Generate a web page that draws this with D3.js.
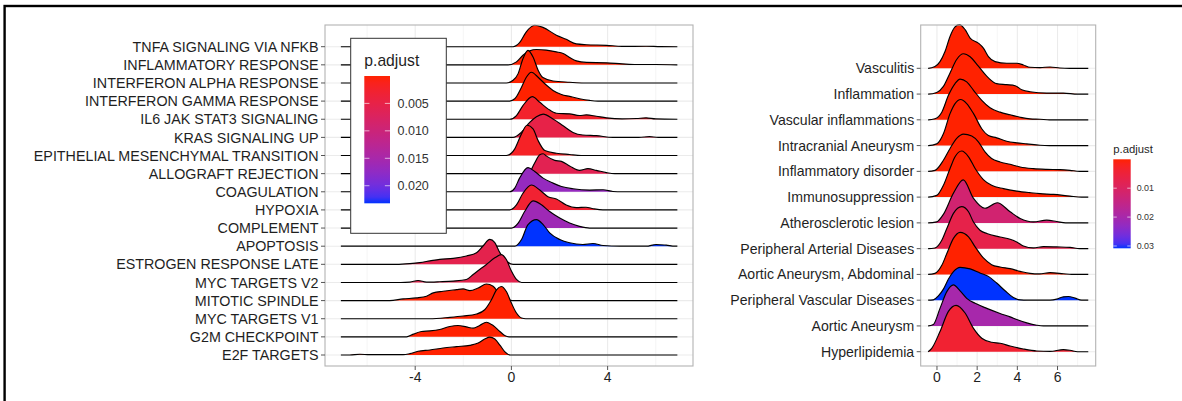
<!DOCTYPE html>
<html>
<head>
<meta charset="utf-8">
<script src="https://cdn.jsdelivr.net/npm/d3@7"></script>
<style>
  body { margin: 0; background: #fff; }
  svg { display: block; font-family: "Liberation Sans", Arial, sans-serif; }
</style>
</head>
<body>
<svg id="chart" width="1182" height="401"></svg>
<script>
// ---- left panel: hallmark gene sets ----
const hallmarkTerms = [
  "TNFA SIGNALING VIA NFKB", "INFLAMMATORY RESPONSE", "INTERFERON ALPHA RESPONSE",
  "INTERFERON GAMMA RESPONSE", "IL6 JAK STAT3 SIGNALING", "KRAS SIGNALING UP",
  "EPITHELIAL MESENCHYMAL TRANSITION", "ALLOGRAFT REJECTION", "COAGULATION",
  "HYPOXIA", "COMPLEMENT", "APOPTOSIS", "ESTROGEN RESPONSE LATE", "MYC TARGETS V2",
  "MITOTIC SPINDLE", "MYC TARGETS V1", "G2M CHECKPOINT", "E2F TARGETS"
];
const hallmarkPadj = [
  0.00001, 0.00001, 0.00001, 0.00001, 0.0025, 0.005, 0.002, 0.006, 0.017,
  0.003, 0.016, 0.0232, 0.0055, 0.0055, 0.00001, 0.00001, 0.00001, 0.00001
];
// density estimates [log2FC, density] read off the ridges
const hallmarkDensity = [
  [[0.07,0],[0.34,0.10],[0.62,0.375],[0.97,0.54],[1.31,0.485],[1.87,0.29],[2.28,0.185],[2.70,0.07],[3.12,0.05],[3.95,0.035],[4.6,0.008],[5.6,0.012],[6.2,0.002]],
  [[-0.14,0],[0.21,0.075],[0.48,0.24],[0.76,0.35],[1.04,0.385],[1.45,0.37],[1.87,0.325],[2.15,0.285],[2.42,0.185],[2.70,0.10],[3.12,0.06],[3.95,0.05],[4.6,0.025],[5.2,0.008],[6.0,0.008]],
  [[-0.21,0],[0.07,0.068],[0.28,0.235],[0.48,0.61],[0.69,0.82],[0.90,0.65],[1.11,0.32],[1.31,0.135],[1.73,0.05],[2.42,0.018],[3.0,0]],
  [[-0.07,0],[0.14,0.058],[0.42,0.35],[0.62,0.6],[0.83,0.725],[1.11,0.6],[1.39,0.435],[1.73,0.268],[2.08,0.168],[2.42,0.118],[2.83,0.06],[3.25,0.018],[3.6,0]],
  [[-0.07,0],[0.21,0.093],[0.48,0.343],[0.87,0.568],[1.18,0.425],[1.52,0.26],[1.87,0.15],[2.42,0.135],[2.83,0.093],[3.12,0.11],[3.53,0.075],[3.95,0.035],[4.6,0.008],[5.2,0.018],[5.6,0.035],[6.0,0.008]],
  [[0.07,0],[0.41,0.125],[0.76,0.375],[1.04,0.518],[1.32,0.585],[1.73,0.46],[2.15,0.293],[2.56,0.125],[2.97,0.06],[3.53,0.043],[4.22,0],[5.3,0],[5.74,0.018],[6.1,0]],
  [[-0.21,0],[0.14,0.168],[0.42,0.543],[0.65,0.76],[0.90,0.668],[1.11,0.375],[1.39,0.125],[1.87,0.058],[2.42,0.025],[2.9,0]],
  [[0.55,0],[0.76,0.04],[0.95,0.25],[1.18,0.475],[1.32,0.5],[1.46,0.44],[1.80,0.333],[2.08,0.308],[2.42,0.193],[2.83,0.083],[3.18,0.125],[3.53,0.083],[3.95,0.025],[4.3,0]],
  [[-0.07,0],[0.14,0.093],[0.34,0.343],[0.69,0.608],[0.97,0.508],[1.32,0.343],[1.73,0.218],[2.08,0.133],[2.56,0.075],[3.25,0.043],[3.81,0.05],[4.22,0.008],[4.6,0]],
  [[-0.07,0],[0.21,0.125],[0.48,0.418],[0.83,0.625],[1.18,0.5],[1.52,0.333],[1.87,0.275],[2.28,0.125],[2.70,0.058],[3.1,0.068],[3.4,0.03],[3.8,0]],
  [[0.0,0],[0.28,0.125],[0.55,0.415],[0.90,0.683],[1.25,0.583],[1.59,0.415],[2.01,0.25],[2.42,0.125],[2.83,0.043],[3.25,0]],
  [[0.14,0],[0.42,0.168],[0.69,0.543],[1.04,0.668],[1.32,0.543],[1.59,0.335],[2.01,0.168],[2.42,0.085],[2.97,0.043],[3.39,0.068],[3.81,0.018],[4.5,0],[5.6,0],[6.02,0.043],[6.44,0.025],[6.8,0]],
  [[-4.78,0],[-4.22,0.018],[-3.81,0.043],[-3.39,0.085],[-2.98,0.125],[-2.42,0.15],[-1.87,0.21],[-1.45,0.293],[-1.18,0.46],[-0.90,0.625],[-0.69,0.543],[-0.48,0.293],[-0.21,0.085],[0.07,0]],
  [[-4.6,0],[-4.22,0.008],[-3.88,0.05],[-3.53,0.008],[-2.98,0.018],[-2.42,0.035],[-1.87,0.075],[-1.59,0.2],[-1.32,0.325],[-1.04,0.45],[-0.69,0.618],[-0.42,0.7],[-0.21,0.575],[0.0,0.285],[0.21,0.075],[0.42,0]],
  [[-5.06,0],[-4.5,0.043],[-3.95,0.068],[-3.53,0.11],[-3.25,0.193],[-2.84,0.235],[-2.28,0.275],[-2.01,0.293],[-1.73,0.25],[-1.38,0.318],[-1.04,0.418],[-0.76,0.36],[-0.48,0.15],[-0.21,0.043],[0.05,0]],
  [[-3.39,0],[-2.56,0.035],[-2.01,0.068],[-1.45,0.118],[-1.11,0.225],[-0.83,0.475],[-0.62,0.725],[-0.42,0.81],[-0.21,0.685],[0.0,0.393],[0.21,0.143],[0.42,0.018],[0.6,0]],
  [[-4.36,0],[-4.08,0.068],[-3.74,0.135],[-3.39,0.15],[-2.98,0.185],[-2.56,0.26],[-2.22,0.285],[-1.87,0.25],[-1.59,0.218],[-1.32,0.285],[-1.04,0.368],[-0.76,0.285],[-0.48,0.135],[-0.28,0.035],[-0.1,0]],
  [[-6.72,0],[-6.3,0.018],[-5.89,0.008],[-4.5,0.008],[-4.22,0.033],[-3.88,0.093],[-3.39,0.125],[-2.84,0.175],[-2.28,0.21],[-1.73,0.243],[-1.38,0.3],[-1.11,0.4],[-0.90,0.45],[-0.69,0.4],[-0.48,0.25],[-0.28,0.085],[-0.05,0]]
];
const hallmarkRange = [-7.09, 6.9];
const hallmarkXTicks = [-4, 0, 4];
const hallmarkXMinor = [-6, -2, 2, 6];
const hallmarkLegendTicks = [0.005, 0.010, 0.015, 0.020];

// ---- right panel: disease terms ----
const diseaseTerms = [
  "Vasculitis", "Inflammation", "Vascular inflammations", "Intracranial Aneurysm",
  "Inflammatory disorder", "Immunosuppression", "Atherosclerotic lesion",
  "Peripheral Arterial Diseases", "Aortic Aneurysm, Abdominal",
  "Peripheral Vascular Diseases", "Aortic Aneurysm", "Hyperlipidemia"
];
const diseasePadj = [
  0.00001, 0.00001, 0.00001, 0.00001, 0.00001, 0.00001,
  0.012, 0.007, 0.00001, 0.0308, 0.020, 0.004
];
const diseaseDensity = [
  [[-0.43,0],[-0.10,0.034],[0.15,0.132],[0.40,0.332],[0.65,0.632],[0.90,0.82],[1.12,0.866],[1.40,0.766],[1.65,0.6],[2.06,0.5],[2.31,0.4],[2.56,0.232],[2.89,0.132],[3.47,0.1],[3.97,0.1],[4.30,0.066],[4.63,0.02],[5.13,0.014],[5.63,0.026],[6.12,0.006],[6.6,0]],
  [[-0.43,0],[-0.01,0.032],[0.32,0.152],[0.65,0.42],[0.98,0.686],[1.32,0.8],[1.65,0.74],[2.06,0.552],[2.56,0.32],[2.97,0.206],[3.47,0.186],[3.89,0.166],[4.22,0.086],[4.63,0.046],[5.46,0.02],[6.29,0.02],[7.0,0]],
  [[-0.43,0],[-0.10,0.02],[0.24,0.152],[0.57,0.486],[0.90,0.72],[1.15,0.806],[1.48,0.752],[1.82,0.586],[2.23,0.386],[2.64,0.24],[3.14,0.152],[3.64,0.1],[4.14,0.052],[4.63,0.02],[5.13,0.012],[5.6,0]],
  [[-0.43,0],[-0.01,0.034],[0.32,0.234],[0.65,0.634],[0.90,0.834],[1.18,0.914],[1.48,0.834],[1.82,0.634],[2.23,0.334],[2.56,0.2],[2.97,0.154],[3.47,0.086],[3.97,0.054],[4.47,0.034],[5.13,0.006],[5.6,0]],
  [[-0.43,0],[-0.10,0.02],[0.32,0.22],[0.65,0.454],[0.98,0.654],[1.32,0.74],[1.73,0.7],[2.06,0.586],[2.39,0.386],[2.72,0.254],[3.14,0.186],[3.64,0.14],[4.14,0.086],[4.80,0.054],[5.46,0.04],[6.12,0.034],[6.62,0.02],[7.1,0]],
  [[-0.43,0],[-0.01,0.034],[0.32,0.234],[0.65,0.568],[0.90,0.8],[1.23,0.914],[1.57,0.8],[1.90,0.568],[2.31,0.348],[2.72,0.234],[3.31,0.168],[3.97,0.12],[4.63,0.088],[5.13,0.068],[5.80,0.054],[6.62,0.02],[7.2,0]],
  [[-0.43,0],[-0.01,0.02],[0.32,0.17],[0.82,0.59],[1.31,0.854],[1.81,0.49],[2.39,0.29],[3.0,0.4],[3.64,0.22],[4.14,0.088],[4.80,0.02],[5.46,0.054],[5.96,0.028],[6.4,0]],
  [[-0.43,0],[-0.10,0.014],[0.24,0.166],[0.49,0.4],[0.82,0.7],[1.23,0.834],[1.57,0.732],[1.81,0.532],[2.14,0.366],[2.48,0.3],[3.14,0.232],[3.64,0.186],[3.97,0.132],[4.30,0.052],[4.80,0.014],[5.30,0.04],[5.96,0.034],[6.62,0.026],[7.1,0]],
  [[-0.43,0],[-0.10,0.02],[0.24,0.18],[0.49,0.414],[0.82,0.714],[1.15,0.834],[1.57,0.746],[1.90,0.546],[2.31,0.326],[2.72,0.194],[3.14,0.146],[3.64,0.114],[4.14,0.06],[4.63,0.02],[5.1,0.01],[5.63,0.034],[6.29,0.014],[6.7,0]],
  [[-0.43,0],[-0.18,0.006],[0.07,0.086],[0.32,0.22],[0.57,0.42],[0.82,0.566],[1.15,0.652],[1.65,0.62],[2.14,0.54],[2.56,0.472],[2.97,0.34],[3.39,0.186],[3.80,0.052],[4.14,0.006],[4.5,0],[5.63,0],[5.96,0.02],[6.29,0.066],[6.54,0.072],[6.87,0.04],[7.2,0]],
  [[-0.43,0],[-0.18,0.028],[0.15,0.348],[0.49,0.68],[0.82,0.814],[1.15,0.694],[1.48,0.548],[1.90,0.448],[2.48,0.348],[3.14,0.248],[3.64,0.18],[3.97,0.128],[4.47,0.06],[4.97,0.014],[5.3,0]],
  [[-0.44,0],[-0.26,0.068],[0.15,0.4],[0.57,0.8],[0.95,0.92],[1.40,0.768],[1.81,0.468],[2.23,0.268],[2.72,0.188],[3.14,0.168],[3.64,0.114],[4.30,0.054],[4.97,0.014],[5.63,0.006],[6.29,0.04],[6.62,0.028],[7.0,0]]
];
const diseaseRange = [-0.44, 7.53];
const diseaseXTicks = [0, 2, 4, 6];
const diseaseXMinor = [1, 3, 5, 7];
const diseaseLegendTicks = [0.01, 0.02, 0.03];

const svg = d3.select("#chart");

// outer frame (only top and left edge fall inside the picture)
svg.append("rect")
  .attr("x", 4.6).attr("y", 6)
  .attr("width", 1300).attr("height", 500)
  .attr("fill", "none").attr("stroke", "#000").attr("stroke-width", 2.4);

function ridgePanel(o) {
  const g = svg.append("g");
  const x = d3.scaleLinear().domain(o.xDomain).range([o.left, o.right]);
  const y = d3.scalePoint().domain(o.terms).range([o.firstRow, o.lastRow]);
  const step = y.step();
  const dmax = d3.max(o.dens, r => d3.max(r, d => d[1]));
  const h = d3.scaleLinear().domain([0, dmax]).range([0, 1.8 * step]);
  const color = d3.scaleLinear().domain(d3.extent(o.padj)).range(["#ff2200", "#0033ff"]).interpolate(d3.interpolateLab);

  // grid
  g.selectAll(".vmin").data(o.minor).enter().append("line")
    .attr("x1", d => x(d)).attr("x2", d => x(d))
    .attr("y1", o.top).attr("y2", o.bottom)
    .attr("stroke", "#f2f2f2").attr("stroke-width", 0.8);
  g.selectAll(".vmaj").data(o.ticks).enter().append("line")
    .attr("x1", d => x(d)).attr("x2", d => x(d))
    .attr("y1", o.top).attr("y2", o.bottom)
    .attr("stroke", "#ebebeb").attr("stroke-width", 1.1);
  g.selectAll(".hgrid").data(o.terms).enter().append("line")
    .attr("x1", o.left).attr("x2", o.right)
    .attr("y1", d => y(d)).attr("y2", d => y(d))
    .attr("stroke", "#ebebeb").attr("stroke-width", 1.1);

  // ridges, top row first so lower rows overlap
  o.terms.forEach((t, i) => {
    const base = y(t);
    let pts = o.dens[i].slice();
    if (pts[0][0] > o.range[0]) pts.unshift([o.range[0], 0]);
    if (pts[pts.length - 1][0] < o.range[1]) pts.push([o.range[1], 0]);
    const area = d3.area().x(d => x(d[0])).y0(base).y1(d => base - h(d[1])).curve(d3.curveMonotoneX);
    const line = d3.line().x(d => x(d[0])).y(d => base - h(d[1])).curve(d3.curveMonotoneX);
    g.append("path").attr("d", area(pts)).attr("fill", color(o.padj[i]));
    g.append("path").attr("d", line(pts)).attr("fill", "none")
      .attr("stroke", "#000").attr("stroke-width", 1.15);
  });

  // border
  g.append("rect").attr("x", o.left).attr("y", o.top)
    .attr("width", o.right - o.left).attr("height", o.bottom - o.top)
    .attr("fill", "none").attr("stroke", "#b3b3b3").attr("stroke-width", 1.1);

  // y axis
  g.selectAll(".yt").data(o.terms).enter().append("line")
    .attr("x1", o.left - 4).attr("x2", o.left)
    .attr("y1", d => y(d)).attr("y2", d => y(d))
    .attr("stroke", "#555").attr("stroke-width", 1);
  g.selectAll(".yl").data(o.terms).enter().append("text")
    .attr("x", o.left - 6.5).attr("y", d => y(d))
    .attr("dy", "0.36em").attr("text-anchor", "end")
    .attr("font-size", o.labelSize).attr("fill", "#1f1f1f")
    .text(d => d);

  // x axis
  g.selectAll(".xt").data(o.ticks).enter().append("line")
    .attr("x1", d => x(d)).attr("x2", d => x(d))
    .attr("y1", o.bottom).attr("y2", o.bottom + 4)
    .attr("stroke", "#555").attr("stroke-width", 1);
  g.selectAll(".xl").data(o.ticks).enter().append("text")
    .attr("x", d => x(d)).attr("y", o.bottom + 16)
    .attr("text-anchor", "middle")
    .attr("font-size", 14).attr("fill", "#1f1f1f")
    .text(d => String(d));

  // legend
  const L = o.legend;
  if (L.box) {
    g.append("rect").attr("x", L.box[0]).attr("y", L.box[1])
      .attr("width", L.box[2]).attr("height", L.box[3])
      .attr("fill", "#fff").attr("stroke", "#333").attr("stroke-width", 1);
  }
  g.append("text").attr("x", L.barX).attr("y", L.titleY)
    .attr("font-size", L.titleSize).attr("fill", "#1f1f1f").text("p.adjust");
  const gid = "grad" + o.id;
  const grad = svg.append("defs").append("linearGradient").attr("id", gid)
    .attr("x1", 0).attr("y1", 0).attr("x2", 0).attr("y2", 1);
  const ext = d3.extent(o.padj);
  d3.range(0, 1.0001, 0.05).forEach(f => {
    grad.append("stop").attr("offset", f)
      .attr("stop-color", color(ext[0] + f * (ext[1] - ext[0])));
  });
  g.append("rect").attr("x", L.barX).attr("y", L.barTop)
    .attr("width", L.barW).attr("height", L.barBottom - L.barTop)
    .attr("fill", `url(#${gid})`);
  const ly = d3.scaleLinear().domain(ext).range([L.barTop, L.barBottom]);
  L.ticks.forEach(v => {
    [[L.barX, L.barX + L.barW / 5], [L.barX + L.barW * 4 / 5, L.barX + L.barW]].forEach(s => {
      g.append("line").attr("x1", s[0]).attr("x2", s[1])
        .attr("y1", ly(v)).attr("y2", ly(v))
        .attr("stroke", "#fff").attr("stroke-width", 0.8).attr("opacity", 0.8);
    });
    g.append("text").attr("x", L.barX + L.barW + L.labelGap).attr("y", ly(v))
      .attr("dy", "0.36em").attr("font-size", L.labelSize).attr("fill", "#333")
      .text(d3.format(L.fmt)(v));
  });
}

ridgePanel({
  id: "L", terms: hallmarkTerms, padj: hallmarkPadj, dens: hallmarkDensity,
  range: hallmarkRange, xDomain: [-7.75, 7.55], ticks: hallmarkXTicks, minor: hallmarkXMinor,
  left: 325, right: 693, top: 25, bottom: 366, firstRow: 46.7, lastRow: 355,
  labelSize: 14.3,
  legend: {
    box: [350.7, 38.3, 95.6, 195], barX: 364.3, barW: 25.7, barTop: 76, barBottom: 203.3,
    titleY: 65.5, titleSize: 15.7, labelSize: 12.5, labelGap: 7.5,
    ticks: hallmarkLegendTicks, fmt: ".3f"
  }
});

ridgePanel({
  id: "R", terms: diseaseTerms, padj: diseasePadj, dens: diseaseDensity,
  range: diseaseRange, xDomain: [-0.81, 7.9], ticks: diseaseXTicks, minor: diseaseXMinor,
  left: 920.7, right: 1095.7, top: 25, bottom: 366, firstRow: 68.3, lastRow: 351.7,
  labelSize: 14.1,
  legend: {
    box: null, barX: 1113.3, barW: 17.4, barTop: 159.3, barBottom: 248.3,
    titleY: 152.8, titleSize: 11.3, labelSize: 8.9, labelGap: 6,
    ticks: diseaseLegendTicks, fmt: ".2f"
  }
});
</script>
</body>
</html>
